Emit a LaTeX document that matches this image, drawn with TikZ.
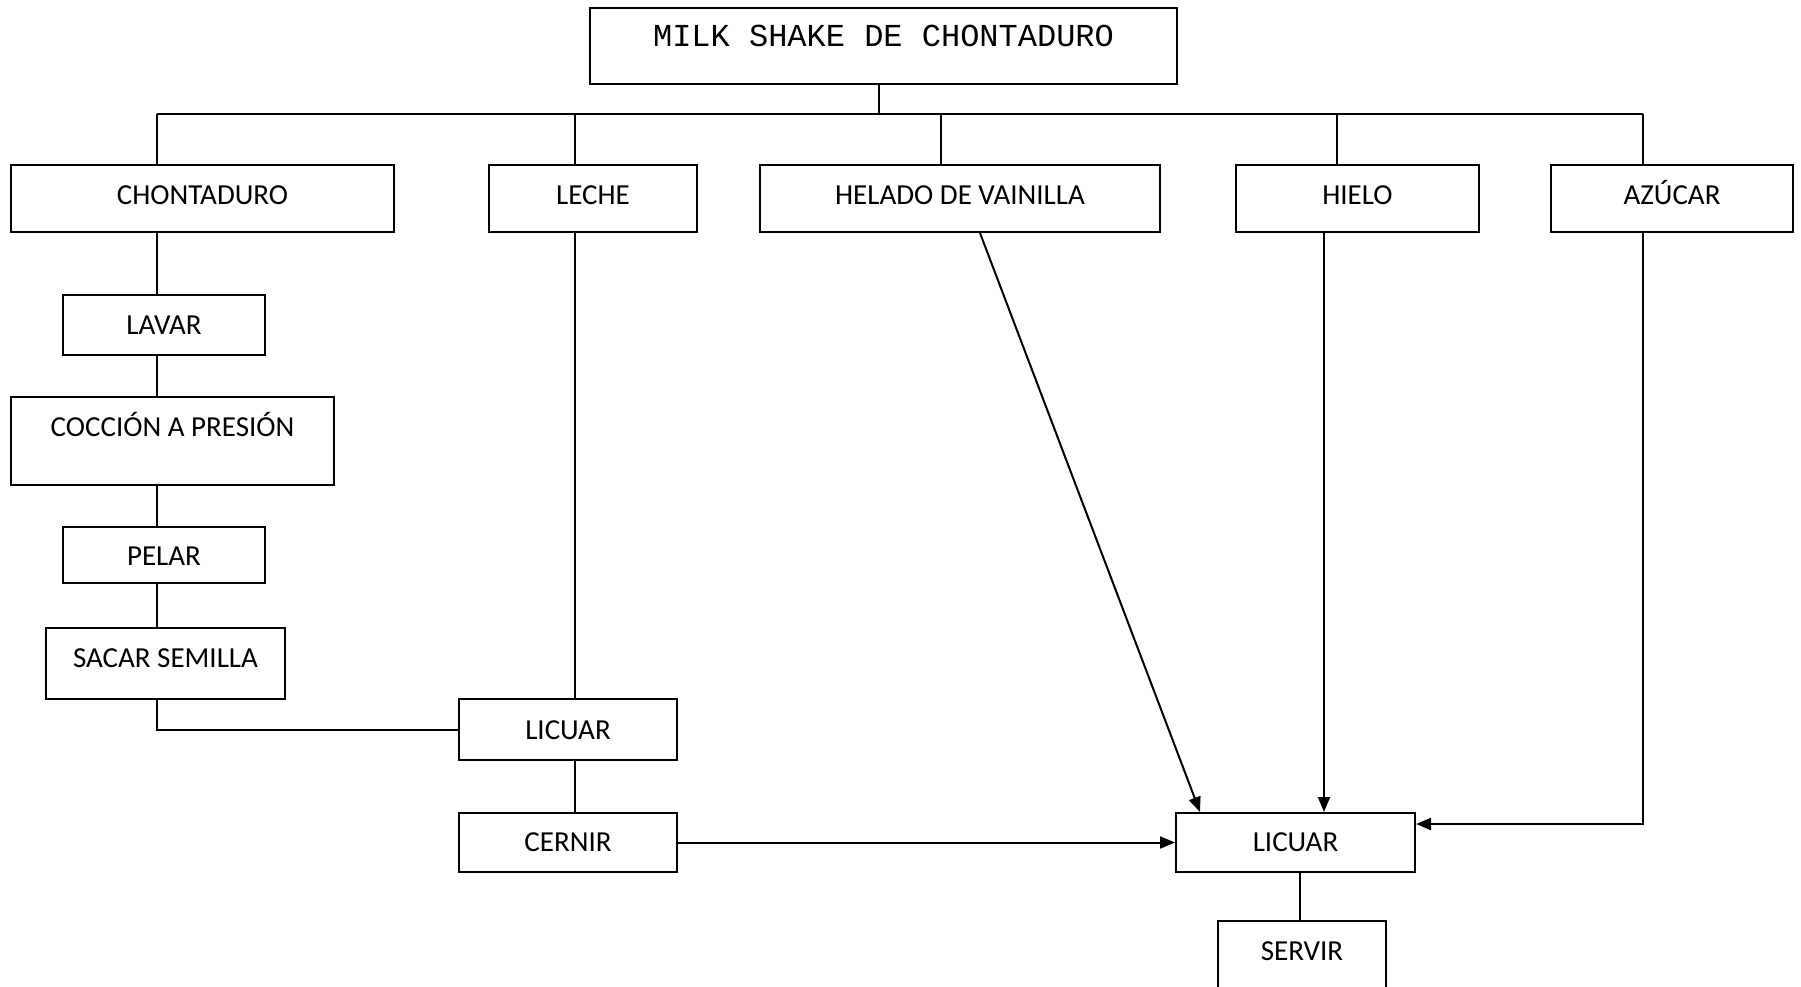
\documentclass[tikz,border=0pt]{standalone}
\usepackage{fontspec}
\setmainfont{Carlito}
\newfontfamily\titlefont{Liberation Mono}
\usetikzlibrary{arrows.meta}

\tikzset{
  box/.style={draw=black, line width=2pt, inner xsep=0pt, inner ysep=0pt,
    font=\fontsize{29}{34}\selectfont, fill=white},
  titlebox/.style={box, font=\titlefont\fontsize{32}{38}\selectfont},
  link/.style={line width=2pt},
  flow/.style={line width=2pt, -{Triangle[length=15pt,width=12pt]}}
}

\begin{document}
\begin{tikzpicture}[x=1pt, y=-1pt]
\useasboundingbox (0,0) rectangle (1801,987);
\clip (0,0) rectangle (1801,987);

% title and ingredients row
\node[titlebox, minimum width=587pt, text height=39pt, text depth=37pt] (title) at (883.5,46) {MILK SHAKE DE CHONTADURO};
\node[box, minimum width=383pt, text height=39.5pt, text depth=27.5pt] (chont) at (202.5,198.5) {CHONTADURO};
\node[box, minimum width=208pt, text height=39.5pt, text depth=27.5pt] (leche) at (593,198.5) {LECHE};
\node[box, minimum width=400pt, text height=39.5pt, text depth=27.5pt] (helado) at (960,198.5) {HELADO DE VAINILLA};
\node[box, minimum width=243pt, text height=39.5pt, text depth=27.5pt] (hielo) at (1357.5,198.5) {HIELO};
\node[box, minimum width=242pt, text height=39.5pt, text depth=27.5pt] (azucar) at (1672,198.5) {AZÚCAR};

% chontaduro preparation
\node[box, minimum width=202pt, text height=39.5pt, text depth=20.5pt] (lavar) at (164,325) {LAVAR};
\node[box, minimum width=323pt, text height=39.8pt, text depth=48.2pt] (coccion) at (172.5,441) {COCCIÓN A PRESIÓN};
\node[box, minimum width=202pt, text height=38.5pt, text depth=17.5pt] (pelar) at (164,555) {PELAR};
\node[box, minimum width=239pt, text height=39.6pt, text depth=31.4pt] (sacar) at (165.5,663.5) {SACAR SEMILLA};

% blending stages
\node[box, minimum width=218pt, text height=40pt, text depth=21pt] (licuarA) at (568,729.5) {LICUAR};
\node[box, minimum width=218pt, text height=38.5pt, text depth=20.5pt] (cernir) at (568,842.5) {CERNIR};
\node[box, minimum width=239pt, text height=38.5pt, text depth=20.5pt] (licuarB) at (1295.5,842.5) {LICUAR};
\node[box, minimum width=168pt, text height=39.5pt, text depth=50pt] (servir) at (1302,965.5) {SERVIR};

% vertical tracks of the connectors
\coordinate (stem) at (879,114);
\coordinate (busL) at (157,114);
\coordinate (busR) at (1643,114);
\coordinate (xchont) at (157,0);
\coordinate (xleche) at (575,0);
\coordinate (xhelado) at (941,0);
\coordinate (xhielo) at (1337,0);
\coordinate (xazucar) at (1643,0);
\coordinate (xice) at (1324,0);
\coordinate (xserve) at (1300,0);

% distribution bus
\draw[link] (title.south -| stem) -- (stem);
\draw[link] (busL) -- (busR);
\draw[link] (busL) -- (chont.north -| xchont);
\draw[link] (busL -| xleche) -- (leche.north -| xleche);
\draw[link] (busL -| xhelado) -- (helado.north -| xhelado);
\draw[link] (busL -| xhielo) -- (hielo.north -| xhielo);
\draw[link] (busR) -- (azucar.north -| xazucar);

% chontaduro chain
\draw[link] (chont.south -| xchont) -- (lavar.north -| xchont);
\draw[link] (lavar.south -| xchont) -- (coccion.north -| xchont);
\draw[link] (coccion.south -| xchont) -- (pelar.north -| xchont);
\draw[link] (pelar.south -| xchont) -- (sacar.north -| xchont);
\draw[link] (sacar.south -| xchont) |- (licuarA.west);

% milk to first blending
\draw[link] (leche.south -| xleche) -- (licuarA.north -| xleche);
\draw[link] (licuarA.south -| xleche) -- (cernir.north -| xleche);

% inputs of the second blending
\draw[flow] (cernir.east) -- (licuarB.west);
\draw[flow] ([xshift=20pt]helado.south) -- ([xshift=25pt]licuarB.north west);
\draw[flow] (hielo.south -| xice) -- (licuarB.north -| xice);
\draw[flow] (azucar.south -| xazucar) |- ([yshift=-12pt]licuarB.north east);
\draw[link] (licuarB.south -| xserve) -- (servir.north -| xserve);
\end{tikzpicture}
\end{document}
